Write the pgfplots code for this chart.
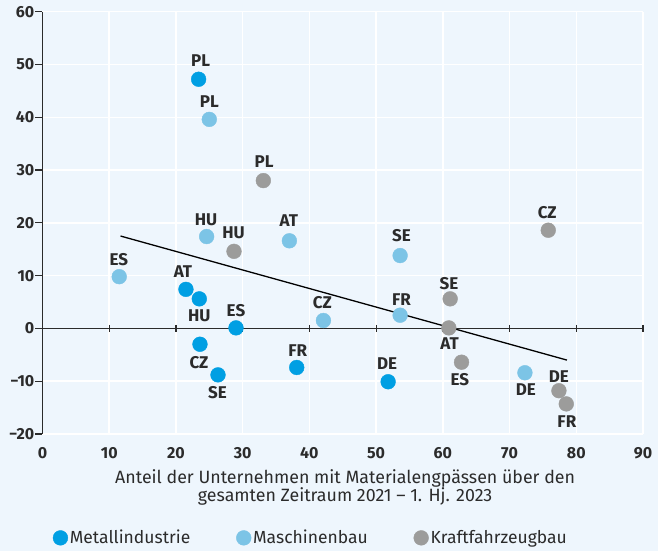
\documentclass[border=0pt]{standalone}
\usepackage{fontspec}
\setmainfont{Fira Sans}
\usepackage{pgfplots}
\usepackage{pgfplotstable}
\pgfplotsset{compat=1.18}
\usetikzlibrary{backgrounds,calc}
\definecolor{bg}{HTML}{EEF6FD}
\definecolor{txt}{HTML}{2B2B2B}
\definecolor{metal}{HTML}{009FE3}
\definecolor{masch}{HTML}{7CC4E6}
\definecolor{kfz}{HTML}{9C9C9B}

\pgfplotstableread{
x y label dx dy
23.4 47.2 PL 2 18.3
21.5 7.4 AT -3 17.4
23.5 5.6 HU 0 -16.7
29.0 0.1 ES 0 17.3
23.6 -3.0 CZ -1 -18
26.3 -8.8 SE -0.5 -17.3
38.1 -7.4 FR 1 16.7
51.8 -10.1 DE -1 17.7
}\metal
\pgfplotstableread{
x y label dx dy
25.0 39.6 PL 0 17.4
24.6 17.4 HU -0.6 17
37.0 16.6 AT -0.6 20.3
11.5 9.8 ES -0.3 17
42.1 1.5 CZ -1 18
53.6 13.8 SE 1.3 19.7
53.6 2.5 FR 1.3 16
72.3 -8.4 DE 1 -16.7
}\masch
\pgfplotstableread{
x y label dx dy
33.1 28.0 PL 0.7 19.3
28.7 14.6 HU -0.4 18.7
75.8 18.6 CZ -1 18
61.1 5.6 SE -1.3 15.7
60.9 0.1 AT 0.7 -16
62.8 -6.4 ES -1.7 -17.7
77.4 -11.8 DE 0 14.3
78.5 -14.3 FR 0.6 -17.4
}\kfz

\begin{document}
\begin{tikzpicture}
\begin{axis}[
  scale only axis, width=600.5bp, height=422.3bp,
  xmin=0, xmax=90, ymin=-20, ymax=60,
  clip=false,
  axis x line*=bottom, axis y line*=left,
  x axis line style={draw=none},
  y axis line style={draw=txt, line width=1.2bp, -},
  xtick={0,10,...,90}, ytick={-20,-10,...,60},
  xticklabels={0,10,20,30,40,50,60,70,80,90},
  yticklabels={−20,−10,0,10,20,30,40,50,60},
  grid=major, major grid style={white, line width=1.5bp},
  x tick style={draw=none},
  y tick style={draw=txt, line width=1.2bp},
  tick align=outside, major tick length=7bp,
  tick label style={font=\fontsize{16bp}{18bp}\selectfont\bfseries, text=txt},
  yticklabel style={inner sep=1bp},
  xticklabel style={yshift=-3bp},
  xlabel={Anteil der Unternehmen mit Materialengpässen über den\\gesamten Zeitraum 2021 – 1. Hj. 2023},
  xlabel style={align=center, at={(axis description cs:0.504,-0.085)}, anchor=north, inner sep=0pt,
    font=\fontsize{17.8bp}{18bp}\selectfont, text=txt},
  legend style={at={(0.447,-0.246)}, anchor=center, legend columns=3, draw=none, fill=none,
    font=\fontsize{17.5bp}{18bp}\selectfont, text=txt,
    /tikz/every even column/.append style={column sep=44bp}},
  legend cell align=left,
  legend image code/.code={\draw[mark repeat=2,mark phase=2,#1] plot coordinates {(0cm,0cm)(0.3cm,0cm)(0.42cm,0cm)};},
  every node near coord/.append style={font=\fontsize{17bp}{18bp}\selectfont\bfseries, text=txt, inner sep=0pt, anchor=center},
]
\coordinate (ll) at (rel axis cs:0,0);
\coordinate (ur) at (rel axis cs:1,1);
\addplot[txt, line width=1.2bp, mark=|, mark size=3.5bp, mark options={solid, line width=1.2bp}, forget plot]
  coordinates {(0,0)(10,0)(20,0)(30,0)(40,0)(50,0)(60,0)(70,0)(80,0)(90,0)};
\addplot[only marks, mark=*, mark size=7.4bp, color=metal, mark options={fill=metal, draw=none},
  nodes near coords, point meta=explicit symbolic,
  visualization depends on={\thisrow{dx}\as\mydx},
  visualization depends on={\thisrow{dy}\as\mydy},
  every node near coord/.append style={xshift=\mydx*1bp, yshift=\mydy*1bp}]
  table[x=x, y=y, meta=label] {\metal};
\addlegendentry{Metallindustrie}
\addplot[only marks, mark=*, mark size=7.4bp, color=masch, mark options={fill=masch, draw=none},
  nodes near coords, point meta=explicit symbolic,
  visualization depends on={\thisrow{dx}\as\mydx},
  visualization depends on={\thisrow{dy}\as\mydy},
  every node near coord/.append style={xshift=\mydx*1bp, yshift=\mydy*1bp}]
  table[x=x, y=y, meta=label] {\masch};
\addlegendentry{Maschinenbau}
\addplot[only marks, mark=*, mark size=7.4bp, color=kfz, mark options={fill=kfz, draw=none},
  nodes near coords, point meta=explicit symbolic,
  visualization depends on={\thisrow{dx}\as\mydx},
  visualization depends on={\thisrow{dy}\as\mydy},
  every node near coord/.append style={xshift=\mydx*1bp, yshift=\mydy*1bp}]
  table[x=x, y=y, meta=label] {\kfz};
\addlegendentry{Kraftfahrzeugbau}
\addplot[black, line width=1.3bp, no marks, forget plot] coordinates {(11.7,17.5) (78.6,-6.0)};
\end{axis}
\begin{scope}[on background layer]
\fill[bg] ($(ll)+(-42.5bp,-117bp)$) rectangle ($(ur)+(15bp,11.7bp)$);
\end{scope}
\pgfresetboundingbox
\path[use as bounding box] ($(ll)+(-42.5bp,-117bp)$) rectangle ($(ur)+(15bp,11.7bp)$);
\end{tikzpicture}
\end{document}
